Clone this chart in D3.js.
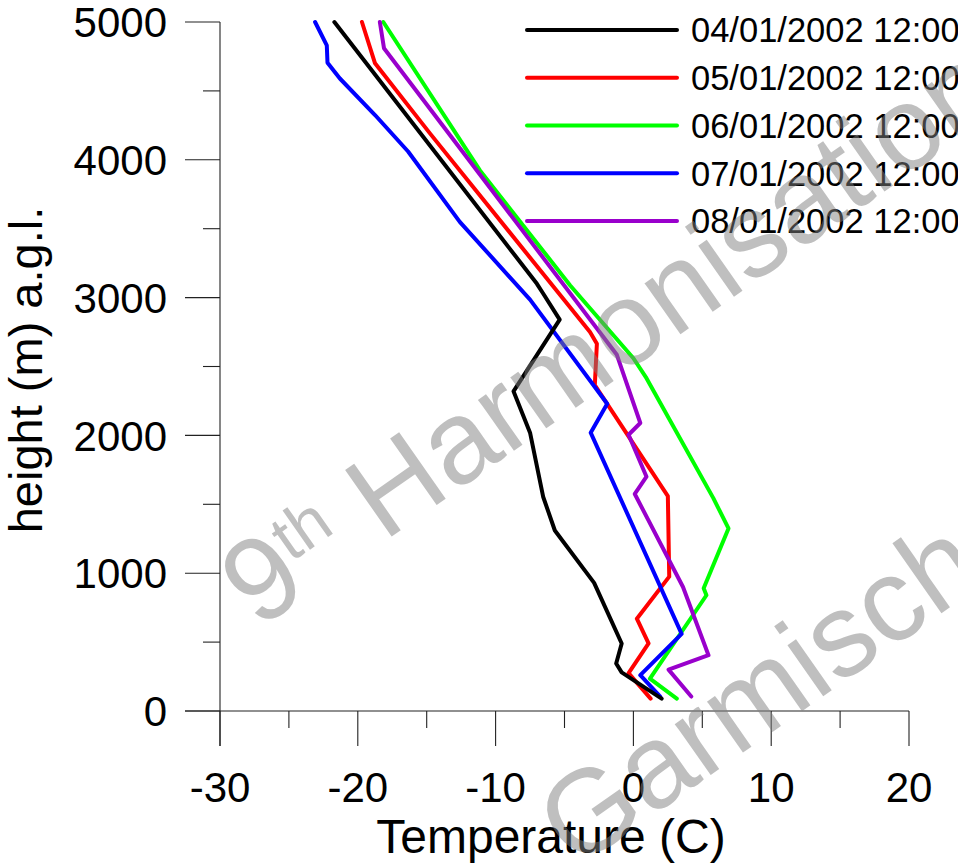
<!DOCTYPE html>
<html lang="en">
<head>
  <meta charset="UTF-8" />
  <title>Temperature profiles</title>
  <script src="https://cdn.jsdelivr.net/npm/d3@7"></script>
  <style>
    html, body { margin: 0; padding: 0; background: #fff; overflow: hidden; }
    svg { display: block; }
    text { font-family: "Liberation Sans", Arial, sans-serif; }
  </style>
</head>
<body>
  <script>
    // ------ Data ------
    const seriesNames = ["04/01/2002 12:00", "05/01/2002 12:00", "06/01/2002 12:00",
                         "07/01/2002 12:00", "08/01/2002 12:00"];
    const seriesColors = ["#000000", "#ff0000", "#00ff00", "#0000ff", "#9900cc"];

    const h0401 = [5000, 3100, 3030, 2840, 2320, 2020, 1555, 1310, 930, 490, 345, 280, 90];
    const t0401 = [-21.7, -7.0, -6.55, -5.35, -8.7, -7.5, -6.55, -5.7, -2.85, -0.85, -1.25, -0.85, 2.05];

    const h0501 = [5000, 4700, 4190, 2750, 2665, 2365, 1560, 975, 670, 490, 275, 90];
    const t0501 = [-19.7, -18.75, -14.75, -3.15, -2.65, -2.8, 2.5, 2.6, 0.25, 1.1, -0.35, 1.25];

    const h0601 = [5000, 3925, 3090, 2560, 2415, 1545, 1325, 890, 840, 235, 90];
    const t0601 = [-18.15, -11.15, -4.6, 0.0, 0.95, 5.8, 6.9, 5.1, 5.3, 1.2, 3.15];

    const h0701 = [5000, 4830, 4705, 4590, 4325, 4060, 3550, 2985, 2230, 2020, 560, 260, 105];
    const t0701 = [-23.1, -22.25, -22.2, -21.3, -18.75, -16.35, -12.6, -7.5, -1.9, -3.1, 3.5, 0.5, 1.95];

    const h0801 = [5000, 4810, 2585, 2090, 2005, 1700, 1575, 900, 405, 300, 105];
    const t0801 = [-18.4, -18.1, -1.2, 0.5, -0.35, 0.95, 0.1, 3.6, 5.45, 2.55, 4.2];

    const xTicks = d3.range(-30, 21, 5);
    const yTicks = d3.range(0, 5001, 500);

    const heights = [h0401, h0501, h0601, h0701, h0801];
    const temps = [t0401, t0501, t0601, t0701, t0801];
    const series = seriesNames.map((name, i) => ({
      name,
      color: seriesColors[i],
      values: heights[i].map((h, j) => ({ h, t: temps[i][j] }))
    }));

    // ------ Setup ------
    const width = 958, height = 864;
    const svg = d3.select("body").append("svg")
      .attr("width", width)
      .attr("height", height);

    const x = d3.scaleLinear().domain([-30, 20]).range([220, 909]);
    const y = d3.scaleLinear().domain([0, 5000]).range([711, 22]);

    const major = 35, minor = 17;

    // ------ Axes ------
    const xAxis = svg.append("g")
      .attr("transform", `translate(0,${y(0)})`)
      .call(d3.axisBottom(x).tickValues(xTicks).tickSize(major).tickSizeOuter(0).offset(0)
        .tickFormat(d => d % 10 === 0 ? d : ""));
    const yAxis = svg.append("g")
      .attr("transform", `translate(${x(-30)},0)`)
      .call(d3.axisLeft(y).tickValues(yTicks).tickSize(major).tickSizeOuter(0).offset(0)
        .tickFormat(d => d % 1000 === 0 ? d : ""));

    [xAxis, yAxis].forEach(g => {
      g.select(".domain").attr("stroke", "#222").attr("stroke-width", 1.1);
      g.selectAll(".tick line").attr("stroke", "#222").attr("stroke-width", 1.1);
      g.selectAll(".tick text")
        .attr("fill", "#000")
        .attr("font-size", 42)
        .attr("font-family", "Liberation Sans, Arial, sans-serif");
    });
    xAxis.selectAll(".tick line").filter(d => d % 10 !== 0).attr("y2", minor);
    yAxis.selectAll(".tick line").filter(d => d % 1000 !== 0).attr("x2", -minor);
    xAxis.selectAll(".tick text").attr("y", 91).attr("dy", 0);
    yAxis.selectAll(".tick text").attr("x", -53).attr("dy", "0.36em");
    // extend the axis lines to meet the outer ticks
    xAxis.select(".domain").attr("d", `M${x(-30) - major},0H${x(20)}`);
    yAxis.select(".domain").attr("d", `M0,${y(5000)}V${y(0) + major}`);

    // ------ Axis titles ------
    svg.append("text")
      .attr("x", 551).attr("y", 853)
      .attr("text-anchor", "middle")
      .attr("font-size", 48)
      .text("Temperature (C)");
    svg.append("text")
      .attr("transform", "translate(42,370) rotate(-90)")
      .attr("text-anchor", "middle")
      .attr("font-size", 47)
      .text("height (m) a.g.l.");

    // ------ Profiles ------
    const line = d3.line().x(d => x(d.t)).y(d => y(d.h));
    const drawOrder = [1, 2, 3, 0, 4];
    svg.append("g").selectAll("path")
      .data(drawOrder.map(i => series[i]))
      .join("path")
      .attr("d", d => line(d.values))
      .attr("fill", "none")
      .attr("stroke", d => d.color)
      .attr("stroke-width", 4)
      .attr("stroke-linejoin", "round")
      .attr("stroke-linecap", "round");

    // ------ Legend ------
    const ly = d3.scalePoint().domain(seriesNames).range([30, 221]);
    const legend = svg.append("g").selectAll("g")
      .data(series)
      .join("g")
      .attr("transform", d => `translate(0,${ly(d.name)})`);
    legend.append("line")
      .attr("x1", 527).attr("x2", 677)
      .attr("stroke", d => d.color)
      .attr("stroke-width", 4)
      .attr("stroke-linecap", "round");
    legend.append("text")
      .attr("x", 691).attr("dy", "0.36em")
      .attr("font-size", 34.5)
      .text(d => d.name);

    // ------ Watermark ------
    const wm = svg.append("g")
      .attr("fill", "#808080")
      .attr("fill-opacity", 0.5)
      .attr("font-size", 118);
    const t1 = wm.append("text").attr("transform", "translate(258,630) rotate(-35)");
    t1.append("tspan").text("9");
    t1.append("tspan").attr("font-size", 66).attr("dy", -36).text("th");
    t1.append("tspan").attr("dy", 36).text(" Harmonisation");
    wm.append("text").attr("transform", "translate(575,870) rotate(-35)").text("Garmisch");
  </script>
</body>
</html>
